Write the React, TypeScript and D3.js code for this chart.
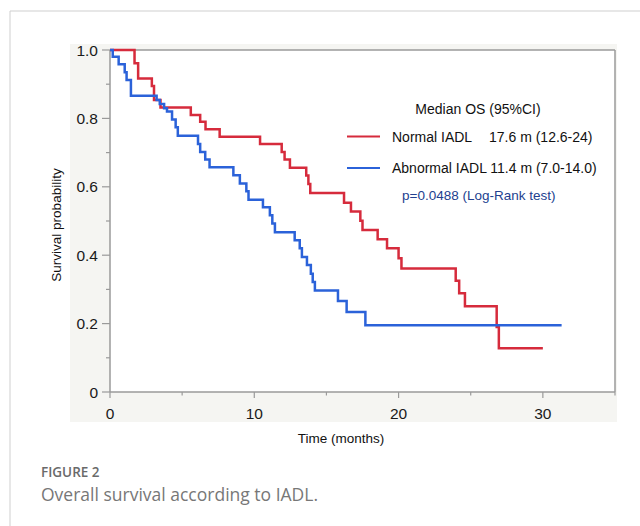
import React from "react";
import * as d3 from "d3";

// ---- Data ----
const normalTimes = [0, 1.7, 1.95, 2.9, 3.05, 3.5, 5.6, 6.25, 6.62, 7.6, 10.4, 11.9, 12.1, 12.47, 13.6, 13.75, 13.88, 16.22, 16.7, 17.35, 17.5, 18.55, 19.2, 20.0, 20.2, 23.96, 24.2, 24.6, 26.8, 26.95, 30.0];
const normalSurv = [1.0, 0.961, 0.917, 0.895, 0.854, 0.832, 0.81, 0.79, 0.768, 0.746, 0.725, 0.702, 0.68, 0.656, 0.633, 0.608, 0.582, 0.553, 0.528, 0.501, 0.474, 0.447, 0.42, 0.391, 0.361, 0.325, 0.289, 0.251, 0.19, 0.128, 0.128];

const abnormalTimes = [0, 0.19, 0.6, 1.02, 1.15, 1.45, 3.23, 3.45, 3.75, 3.95, 4.3, 4.55, 4.7, 6.1, 6.25, 6.6, 6.9, 8.55, 9.0, 9.45, 9.6, 10.6, 11.08, 11.25, 11.43, 12.8, 13.15, 13.3, 13.65, 13.92, 14.05, 14.2, 15.8, 16.4, 17.7, 31.3];
const abnormalSurv = [1.0, 0.98, 0.958, 0.935, 0.912, 0.866, 0.854, 0.842, 0.83, 0.82, 0.797, 0.774, 0.749, 0.725, 0.702, 0.68, 0.657, 0.634, 0.61, 0.587, 0.562, 0.54, 0.517, 0.493, 0.467, 0.444, 0.42, 0.395, 0.371, 0.346, 0.322, 0.297, 0.266, 0.234, 0.195, 0.195];

const xMajorTicks = [0, 10, 20, 30];
const xMinorTicks = [5, 15, 25, 35];
const yMajorTicks = [0, 0.2, 0.4, 0.6, 0.8, 1.0];
const yMajorLabels = ["0", "0.2", "0.4", "0.6", "0.8", "1.0"];
const yMinorTicks = [0.1, 0.3, 0.5, 0.7, 0.9];

const legendTitle = "Median OS (95%CI)";
const seriesNames = ["Normal IADL", "Abnormal IADL"];
const seriesMedians = ["17.6 m (12.6-24)", "11.4 m (7.0-14.0)"];
const pText = "p=0.0488 (Log-Rank test)";
const xTitle = "Time (months)";
const yTitle = "Survival probability";
const figLabel = "FIGURE 2";
const figCaption = "Overall survival according to IADL.";

const RED = "#d62b3c";
const BLUE = "#2b62d9";
const AXIS = "#9a9a9a";
const FONT = "'Liberation Sans', Arial, Helvetica, sans-serif";

export default function App() {
  const x = d3.scaleLinear().domain([0, 35]).range([110, 615]);
  const y = d3.scaleLinear().domain([0, 1]).range([392, 50]);

  const line = d3
    .line<[number, number]>()
    .x((d) => x(d[0]))
    .y((d) => y(d[1]))
    .curve(d3.curveStepAfter);

  const normalPts: [number, number][] = normalTimes.map((t, i) => [t, normalSurv[i]]);
  const abnormalPts: [number, number][] = abnormalTimes.map((t, i) => [t, abnormalSurv[i]]);

  return (
    <svg
      width={640}
      height={526}
      style={{ position: "absolute", left: 0, top: 0, display: "block", background: "#fff" }}
    >
      {/* outer article frame */}
      <line x1={10} y1={11} x2={640} y2={11} stroke="#cfcfcf" strokeWidth={1} />
      <line x1={10} y1={11} x2={10} y2={526} stroke="#cfcfcf" strokeWidth={1} />

      {/* panel background */}
      <rect x={70} y={44} width={547} height={378} fill="#f5f5f2" />
      <rect x={x(0)} y={y(1)} width={x(35) - x(0)} height={y(0) - y(1)} fill="#ffffff" />

      {/* frame lines */}
      <line x1={x(0)} y1={y(1)} x2={x(35)} y2={y(1)} stroke={AXIS} strokeWidth={1.5} />
      <line x1={x(35)} y1={y(1)} x2={x(35)} y2={y(0)} stroke={AXIS} strokeWidth={1.5} />
      <line x1={x(0)} y1={y(0)} x2={x(35)} y2={y(0)} stroke={AXIS} strokeWidth={1.5} />
      <line x1={x(0)} y1={y(1)} x2={x(0)} y2={y(0)} stroke={AXIS} strokeWidth={1.5} />

      {/* y ticks */}
      {yMajorTicks.map((v, i) => (
        <g key={"ym" + i}>
          <line x1={x(0) - 8} x2={x(0)} y1={y(v)} y2={y(v)} stroke={AXIS} strokeWidth={1.2} />
          <text
            x={x(0) - 12}
            y={y(v)}
            dy="0.36em"
            textAnchor="end"
            fontFamily={FONT}
            fontSize={15.5}
            fill="#1a1a1a"
          >
            {yMajorLabels[i]}
          </text>
        </g>
      ))}
      {yMinorTicks.map((v, i) => (
        <line key={"yn" + i} x1={x(0) - 4} x2={x(0)} y1={y(v)} y2={y(v)} stroke={AXIS} strokeWidth={1.2} />
      ))}

      {/* x ticks */}
      {xMajorTicks.map((v, i) => (
        <g key={"xm" + i}>
          <line x1={x(v)} x2={x(v)} y1={y(0)} y2={y(0) + 6} stroke={AXIS} strokeWidth={1.2} />
          <text
            x={x(v)}
            y={418.5}
            textAnchor="middle"
            fontFamily={FONT}
            fontSize={15.5}
            fill="#1a1a1a"
          >
            {v}
          </text>
        </g>
      ))}
      {xMinorTicks.map((v, i) => (
        <line key={"xn" + i} x1={x(v)} x2={x(v)} y1={y(0)} y2={y(0) + 3.5} stroke={AXIS} strokeWidth={1.2} />
      ))}

      {/* axis titles */}
      <text x={341} y={443} textAnchor="middle" fontFamily={FONT} fontSize={13.5} fill="#111">
        {xTitle}
      </text>
      <text
        transform={`translate(61, ${(y(0) + y(1)) / 2 + 4}) rotate(-90)`}
        textAnchor="middle"
        fontFamily={FONT}
        fontSize={13.5}
        fill="#111"
      >
        {yTitle}
      </text>

      {/* curves */}
      <path d={line(normalPts) || ""} fill="none" stroke={RED} strokeWidth={2.5} />
      <path d={line(abnormalPts) || ""} fill="none" stroke={BLUE} strokeWidth={2.5} />

      {/* legend */}
      <text x={478} y={114} textAnchor="middle" fontFamily={FONT} fontSize={14} fill="#111">
        {legendTitle}
      </text>
      <line x1={347} x2={380} y1={136.5} y2={136.5} stroke={RED} strokeWidth={2.2} />
      <text x={392} y={142} fontFamily={FONT} fontSize={14} fill="#111">
        {seriesNames[0]}
      </text>
      <text x={489} y={142} fontFamily={FONT} fontSize={14} fill="#111">
        {seriesMedians[0]}
      </text>
      <line x1={347} x2={380} y1={168} y2={168} stroke={BLUE} strokeWidth={2.2} />
      <text x={392} y={173} fontFamily={FONT} fontSize={14} fill="#111">
        {seriesNames[1] + " " + seriesMedians[1]}
      </text>
      <text x={402} y={200} fontFamily={FONT} fontSize={13.5} fill="#233f8f">
        {pText}
      </text>

      {/* caption */}
      <text x={41} y={477} fontFamily="'Open Sans', sans-serif" fontSize={13.5} fontWeight={600} fill="#6a6a6a">
        {figLabel}
      </text>
      <text x={41} y={501} fontFamily="'Open Sans', sans-serif" fontSize={17.5} fill="#777777">
        {figCaption}
      </text>
    </svg>
  );
}
